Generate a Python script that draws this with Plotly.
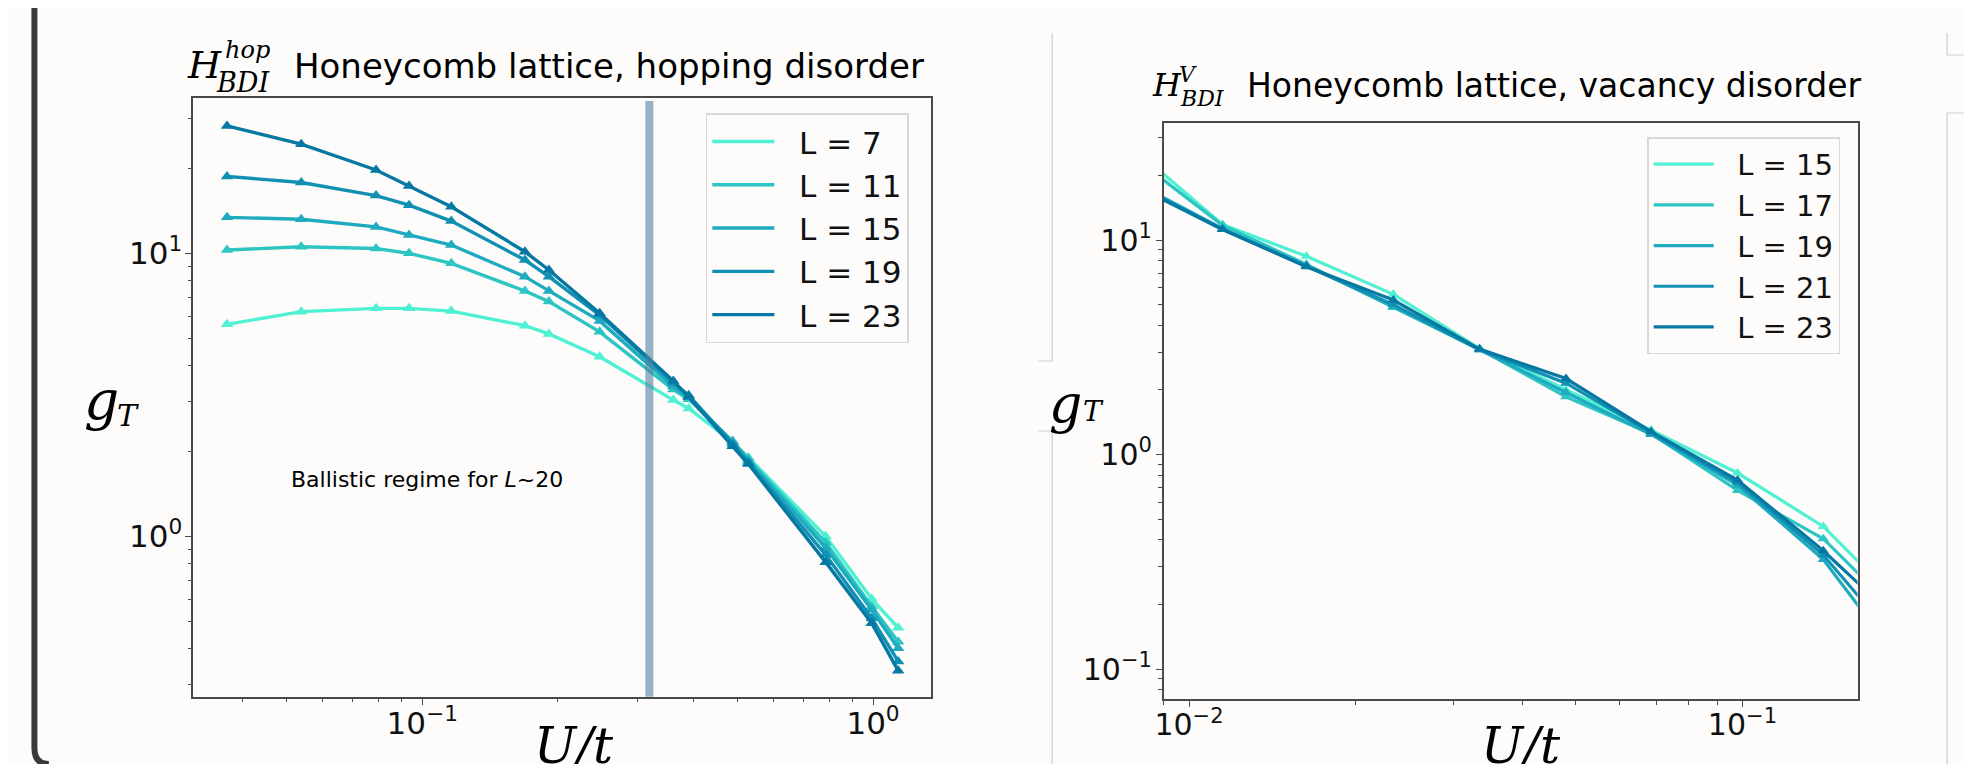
import plotly.graph_objects as go

# ---------------- data: left panel (hopping disorder) ----------------
u_hop = [0.0369, 0.0539, 0.0790, 0.0935, 0.116, 0.169, 0.191, 0.2475, 0.3605, 0.390, 0.488, 0.529, 0.785, 0.993, 1.137]
g_hop_L7 = [5.61, 6.22, 6.39, 6.39, 6.25, 5.55, 5.19, 4.31, 3.03, 2.83, 2.15, 1.90, 1.00, 0.600, 0.475]
g_hop_L11 = [10.27, 10.55, 10.4, 10.0, 9.22, 7.36, 6.75, 5.28, 3.30, 3.05, 2.17, 1.88, 0.95, 0.565, 0.424]
g_hop_L15 = [13.4, 13.2, 12.4, 11.6, 10.7, 8.27, 7.36, 5.77, 3.38, 3.10, 2.15, 1.85, 0.91, 0.550, 0.402]
g_hop_L19 = [18.7, 17.8, 16.0, 14.8, 13.0, 9.47, 8.27, 6.05, 3.48, 3.15, 2.12, 1.82, 0.86, 0.513, 0.361]
g_hop_L23 = [28.2, 24.3, 19.7, 17.3, 14.6, 10.13, 8.73, 6.14, 3.54, 3.11, 2.08, 1.80, 0.81, 0.493, 0.335]
hop_labels = ["L = 7", "L = 11", "L = 15", "L = 19", "L = 23"]
ballistic_U = 0.319

# ---------------- data: right panel (vacancy disorder) ----------------
u_vac = [0.0080, 0.0115, 0.0163, 0.0234, 0.0335, 0.048, 0.0684, 0.098, 0.140, 0.200]
g_vac_L15 = [26.3, 11.8, 8.4, 5.58, 3.12, 2.00, 1.30, 0.82, 0.462, 0.184]
g_vac_L17 = [24.0, 11.7, 7.7, 4.85, 3.10, 1.86, 1.25, 0.68, 0.405, 0.162]
g_vac_L19 = [18.5, 11.3, 7.6, 4.90, 3.08, 1.95, 1.24, 0.72, 0.324, 0.096]
g_vac_L21 = [18.2, 11.2, 7.55, 5.00, 3.08, 2.15, 1.26, 0.74, 0.340, 0.116]
g_vac_L23 = [17.9, 11.2, 7.5, 5.25, 3.10, 2.26, 1.28, 0.76, 0.356, 0.151]
vac_labels = ["L = 15", "L = 17", "L = 19", "L = 21", "L = 23"]

colors = ["#50f0d2", "#2cc5c4", "#1eaabf", "#1090b3", "#0578a3"]

# the page body has an 8px margin: the figure is sized so that it fills the window
OFF = 8
W, H = 1972 - OFF, 764 - OFF
BG = "#fdfcfa"
AX = "#4a4a4a"
SANS = "DejaVu Sans"
SERIF = "DejaVu Serif"
NB = "\u00a0"


def px(x):
    return (x - OFF) / W


def py(y):
    return 1 - (y - OFF) / H


fig = go.Figure()

hop_series = [g_hop_L7, g_hop_L11, g_hop_L15, g_hop_L19, g_hop_L23]
for vals, lab, c in zip(hop_series, hop_labels, colors):
    fig.add_trace(go.Scatter(x=u_hop, y=vals, mode="lines", name=NB * 2 + lab,
                             line=dict(color=c, width=3.4), xaxis="x", yaxis="y",
                             legend="legend"))
    fig.add_trace(go.Scatter(x=u_hop, y=vals, mode="markers", showlegend=False,
                             marker=dict(symbol="triangle-up", size=11, color=c),
                             xaxis="x", yaxis="y"))

vac_series = [g_vac_L15, g_vac_L17, g_vac_L19, g_vac_L21, g_vac_L23]
for vals, lab, c in zip(vac_series, vac_labels, colors):
    fig.add_trace(go.Scatter(x=u_vac, y=vals, mode="lines", name=NB * 2 + lab,
                             line=dict(color=c, width=3.2), xaxis="x2", yaxis="y2",
                             legend="legend2"))
    fig.add_trace(go.Scatter(x=u_vac, y=vals, mode="markers", showlegend=False,
                             marker=dict(symbol="triangle-up", size=10, color=c),
                             xaxis="x2", yaxis="y2"))


def minor_vals(lo_exp, hi_exp):
    out = []
    for e in range(lo_exp, hi_exp + 1):
        for m in range(2, 10):
            out.append(m * 10 ** e)
    return out


def axis_common(tfsize, standoff):
    return dict(type="log", showline=True, mirror=True, linecolor=AX, linewidth=1.6,
                ticks="outside", ticklen=6, tickwidth=1.3, tickcolor=AX,
                showgrid=False, zeroline=False, ticklabelstandoff=standoff,
                tickfont=dict(family=SANS, size=tfsize, color="#111"))


fig.update_layout(
    width=W, height=H, autosize=False,
    margin=dict(l=0, r=0, t=0, b=0),
    paper_bgcolor=BG, plot_bgcolor=BG,
    xaxis=dict(**axis_common(31, -8), domain=[px(185), px(926.7)], range=[-1.508, 0.1296], anchor="y",
               tickvals=[0.1, 1], ticktext=["10<sup>\u22121</sup>", "10<sup>0</sup>"],
               minor=dict(tickvals=minor_vals(-2, -1), ticks="outside", ticklen=3.5,
                          tickwidth=1, tickcolor=AX)),
    yaxis=dict(**axis_common(31, -3), domain=[py(696.7), py(97.7)], range=[-0.567, 1.550], anchor="x",
               tickvals=[1, 10], ticktext=["10<sup>0</sup>", "10<sup>1</sup>"],
               minor=dict(tickvals=minor_vals(-1, 1), ticks="outside", ticklen=3.5,
                          tickwidth=1, tickcolor=AX)),
    xaxis2=dict(**axis_common(30, -8), domain=[px(1160), px(1857)], range=[-2.0457, -0.792], anchor="y2",
                tickvals=[0.01, 0.1], ticktext=["10<sup>\u22122</sup>", "10<sup>\u22121</sup>"],
                minor=dict(tickvals=minor_vals(-3, -1), ticks="outside", ticklen=3.5,
                           tickwidth=1, tickcolor=AX)),
    yaxis2=dict(**axis_common(30, -2), domain=[py(699.3), py(123.3)], range=[-1.141, 1.544], anchor="x2",
                tickvals=[0.1, 1, 10], ticktext=["10<sup>\u22121</sup>", "10<sup>0</sup>", "10<sup>1</sup>"],
                minor=dict(tickvals=minor_vals(-2, 1), ticks="outside", ticklen=3.5,
                           tickwidth=1, tickcolor=AX)),
    legend=dict(x=px(700), y=py(113.3), xanchor="left", yanchor="top",
                font=dict(family=SANS, size=31, color="#111"),
                bgcolor="rgba(253,252,250,0.85)", bordercolor="#d8d8d8", borderwidth=1.5,
                itemwidth=62, tracegroupgap=0),
    legend2=dict(x=px(1645.7), y=py(137.3), xanchor="left", yanchor="top",
                 font=dict(family=SANS, size=29, color="#111"),
                 bgcolor="rgba(253,252,250,0.85)", bordercolor="#d8d8d8", borderwidth=1.5,
                 itemwidth=60, tracegroupgap=0),
    showlegend=True,
)

# ballistic marker band
fig.add_shape(type="line", xref="x", yref="y domain", x0=ballistic_U, x1=ballistic_U,
              y0=0, y1=0.9945, line=dict(color="rgba(80,130,160,0.6)", width=8), layer="above")

# slide decorations
fig.add_shape(type="path", xref="paper", yref="paper",
              path=f"M {px(25.5)},{py(8)} L {px(25.5)},{py(748)} Q {px(25.5)},{py(764)} {px(40)},{py(764)}",
              line=dict(color="#3a3a3a", width=6))
gray = dict(color="#cfcfcf", width=1.2)
for path in [
    f"M {px(1034)},{py(361)} L {px(1048)},{py(361)} L {px(1048)},{py(33)}",
    f"M {px(1034)},{py(431)} L {px(1048)},{py(431)} L {px(1048)},{py(764)}",
    f"M {px(1947)},{py(33)} L {px(1947)},{py(55)} L {px(1972)},{py(55)}",
    f"M {px(1947)},{py(764)} L {px(1947)},{py(113)} L {px(1972)},{py(113)}",
]:
    fig.add_shape(type="path", xref="paper", yref="paper", path=path, line=gray)


def ann(text, x, y, size, family=SANS, italic=False, xanchor="center", yanchor="middle"):
    t = f"<i>{text}</i>" if italic else text
    fig.add_annotation(text=t, x=x, y=y, xref="paper", yref="paper", showarrow=False,
                       xanchor=xanchor, yanchor=yanchor, borderpad=0,
                       font=dict(family=family, size=size, color="#000"))


# titles
ann("H", px(196), py(65.5), 38, SERIF, True)
ann("hop", px(240), py(50), 24, SERIF, True)
ann("BDI", px(235), py(83), 27, SERIF, True)
ann("Honeycomb lattice, hopping disorder", px(285), py(66.5), 34, SANS, xanchor="left")

ann("H", px(1163), py(85), 32, SERIF, True)
ann("V", px(1184.5), py(74), 22, SERIF, True)
ann("BDI", px(1198.5), py(98.5), 22, SERIF, True)
ann("Honeycomb lattice, vacancy disorder", px(1243), py(85), 33, SANS, xanchor="left")

# axis labels (g with subscript T)
ann("g", px(74), py(399.5), 55, SERIF, True, xanchor="left")
ann("T", px(107), py(415.6), 30, SERIF, True, xanchor="left")
ann("g", px(1044), py(403.7), 52, SERIF, True, xanchor="left")
ann("T", px(1078), py(411.8), 28, SERIF, True, xanchor="left")
ann("U/t", px(567.5), py(746), 50, SERIF, True)
ann("U/t", px(1519), py(746), 50, SERIF, True)

# text note
fig.add_annotation(text="Ballistic regime for <i>L</i>~20",
                   x=px(282), y=py(479), xref="paper", yref="paper", showarrow=False,
                   xanchor="left", yanchor="middle", borderpad=0,
                   font=dict(family=SANS, size=22, color="#000"))

fig.write_html("out.html")
